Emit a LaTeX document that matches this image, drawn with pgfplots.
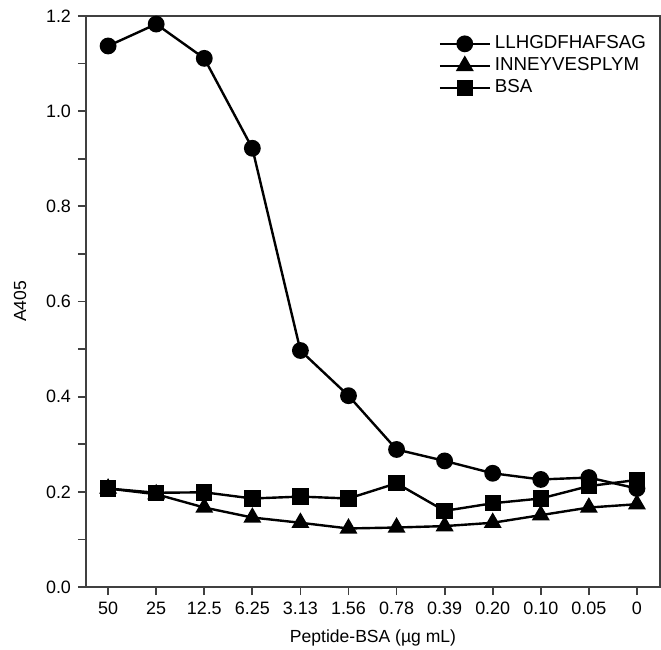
\documentclass[border=0pt]{standalone}
\usepackage{fontspec}
\setmainfont{Liberation Sans}
\usepackage{pgfplots}
\pgfplotsset{compat=1.18}

\begin{document}
\begin{tikzpicture}
\begin{axis}[
  name=ax,
  scale only axis,
  width=287bp, height=285.5bp,
  xmin=-0.46, xmax=11.48,
  ymin=0, ymax=1.2,
  xtick={0,...,11},
  xticklabels={50,25,12.5,6.25,3.13,1.56,0.78,0.39,0.20,0.10,0.05,0},
  ytick={0,0.2,0.4,0.6,0.8,1.0,1.2},
  minor ytick={0.1,0.3,0.5,0.7,0.9,1.1},
  yticklabel style={/pgf/number format/fixed,/pgf/number format/fixed zerofill,/pgf/number format/precision=1},
  /pgf/number format/assume math mode=true,
  tick align=outside,
  xtick pos=bottom, ytick pos=left,
  major tick length=4bp, minor tick length=4bp,
  tick style={black!75, line width=0.9bp},
  axis line style={black!75, line width=1bp},
  ticklabel style={font=\fontsize{9}{10}\selectfont},
  label style={font=\fontsize{8.8}{10}\selectfont},
  xlabel={Peptide-BSA (µg mL)},
  ylabel={A405},
  xlabel style={at={(axis description cs:0.5,-0.089)}, anchor=center},
  ylabel style={at={(axis description cs:-0.115,0.5)}, anchor=center},
  every axis plot/.append style={black, line width=1.2bp, mark options={solid, fill=black}},
  legend style={at={(axis description cs:0.99,0.98)}, anchor=north east,
    draw=none, fill=none, font=\fontsize{9.4}{11}\selectfont,
    row sep=-1bp, inner sep=2bp, cells={anchor=west}},
  legend image code/.code={%
    \draw[mark repeat=2,mark phase=2,#1] plot coordinates {(0bp,0bp) (12.5bp,0bp) (25bp,0bp)};},
]
\addplot[mark=*, mark size=3.6bp] coordinates {
  (0,1.137) (1,1.183) (2,1.111) (3,0.922) (4,0.497) (5,0.402)
  (6,0.289) (7,0.265) (8,0.239) (9,0.226) (10,0.230) (11,0.207)
};
\addlegendentry{LLHGDFHAFSAG}
\addplot[mark=triangle*, mark size=4bp] coordinates {
  (0,0.207) (1,0.195) (2,0.167) (3,0.146) (4,0.135) (5,0.123)
  (6,0.125) (7,0.128) (8,0.135) (9,0.151) (10,0.167) (11,0.174)
};
\addlegendentry{INNEYVESPLYM}
\addplot[mark=square*, mark size=3.5bp] coordinates {
  (0,0.207) (1,0.198) (2,0.199) (3,0.186) (4,0.190) (5,0.186)
  (6,0.218) (7,0.160) (8,0.176) (9,0.186) (10,0.212) (11,0.225)
};
\addlegendentry{BSA}
\end{axis}
\pgfresetboundingbox
\useasboundingbox ([xshift=-43bp,yshift=-31.5bp]ax.south west) rectangle ([xshift=0.5bp,yshift=8bp]ax.north east);
\end{tikzpicture}
\end{document}
